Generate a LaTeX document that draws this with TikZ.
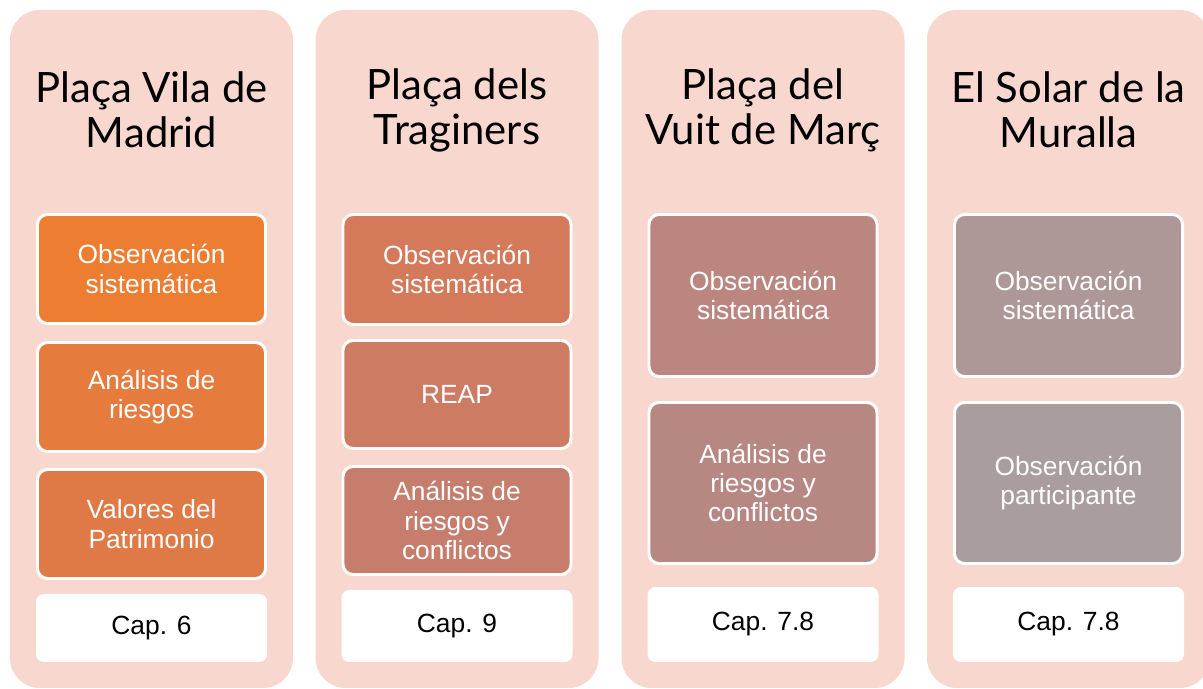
\documentclass[tikz,border=0pt]{standalone}
\usepackage{fontspec}
\setmainfont{Liberation Sans}
\newfontfamily\titlefont{Lato}
\definecolor{panelfill}{HTML}{F8D8CE}
\definecolor{madridA}{HTML}{ED7D31}
\definecolor{madridB}{HTML}{E67B3E}
\definecolor{madridC}{HTML}{DF7A47}
\definecolor{traginersA}{HTML}{D47A5B}
\definecolor{traginersB}{HTML}{CD7C63}
\definecolor{traginersC}{HTML}{C67D6C}
\definecolor{vuitA}{HTML}{BB867F}
\definecolor{vuitB}{HTML}{B78782}
\definecolor{solarA}{HTML}{AE9797}
\definecolor{solarB}{HTML}{A99D9D}

\begin{document}
\begin{tikzpicture}[
  font=\fontsize{15}{16.6}\selectfont,
  panel/.style={
    fill=panelfill,
    rounded corners=17pt,
    inner sep=0pt,
    minimum width=5.66cm,
    minimum height=13.56cm
  },
  heading/.style={
    font=\titlefont\fontsize{23.8}{25.6}\selectfont,
    align=center,
    text=black
  },
  method/.style={
    draw=white,
    line width=1.7pt,
    rounded corners=5.7pt,
    fill=#1,
    text=white,
    align=center,
    inner sep=0pt,
    minimum width=4.56cm
  },
  chapter/.style={
    fill=white,
    rounded corners=4.5pt,
    text=black,
    inner sep=0pt,
    minimum width=4.62cm
  }
]
\path[use as bounding box, clip] (0,0) rectangle (24.06,-13.78);

% Column panels
\node[panel] (madrid) at (3.03,-6.98) {};
\node[panel] (traginers) at (9.14,-6.98) {};
\node[panel] (vuit) at (15.26,-6.98) {};
\node[panel] (solar) at (21.37,-6.98) {};

% Headings
\node[heading] (madridtitle) at (3.03,-2.20) {Plaça Vila de\\Madrid};
\node[heading] (traginerstitle) at (9.14,-2.20) {Plaça dels\\Traginers};
\node[heading] (vuittitle) at (15.26,-2.20) {Plaça del\\Vuit de Març};
\node[heading] (solartitle) at (21.37,-2.20) {El Solar de la\\Muralla};

% Plaça Vila de Madrid
\node[method=madridA, minimum height=2.18cm] (madridobs) at (3.03,-5.38) {Observación\\sistemática};
\node[method=madridB, minimum height=2.18cm] (madridrisk) at (3.03,-7.94) {Análisis de\\riesgos};
\node[method=madridC, minimum height=2.18cm] (madridvalues) at (3.03,-10.48) {Valores del\\Patrimonio};
\node[chapter, minimum height=1.36cm] (madridcap) at (3.03,-12.56) {Cap. 6};

% Plaça dels Traginers
\node[method=traginersA, minimum height=2.20cm] (traginersobs) at (9.14,-5.39) {Observación\\sistemática};
\node[method=traginersB, minimum height=2.16cm] (traginersreap) at (9.14,-7.89) {REAP};
\node[method=traginersC, minimum height=2.16cm] (traginersrisk) at (9.14,-10.41) {Análisis de\\riesgos y\\conflictos};
\node[chapter, minimum height=1.44cm] (traginerscap) at (9.14,-12.52) {Cap. 9};

% Plaça del Vuit de Març
\node[method=vuitA, minimum height=3.24cm] (vuitobs) at (15.26,-5.91) {Observación\\sistemática};
\node[method=vuitB, minimum height=3.22cm] (vuitrisk) at (15.26,-9.66) {Análisis de\\riesgos y\\conflictos};
\node[chapter, minimum height=1.50cm] (vuitcap) at (15.26,-12.49) {Cap. 7.8};

% El Solar de la Muralla
\node[method=solarA, minimum height=3.24cm] (solarobs) at (21.37,-5.91) {Observación\\sistemática};
\node[method=solarB, minimum height=3.22cm] (solarpart) at (21.37,-9.66) {Observación\\participante};
\node[chapter, minimum height=1.50cm] (solarcap) at (21.37,-12.49) {Cap. 7.8};

\end{tikzpicture}
\end{document}
